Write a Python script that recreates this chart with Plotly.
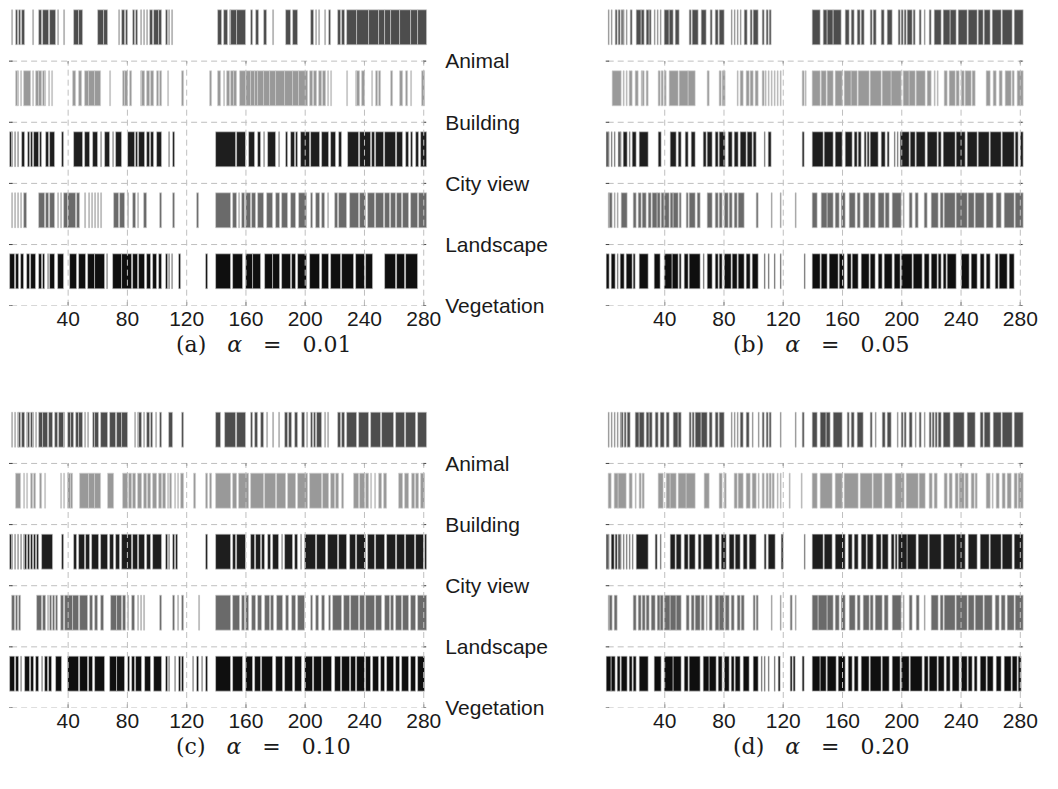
import plotly.graph_objects as go

# ---------------- data ----------------
CATEGORIES = ["Animal", "Building", "City view", "Landscape", "Vegetation"]
CAT_POS = [5, 4, 3, 2, 1]
X_TICKS = [40, 80, 120, 160, 200, 240, 280]
COLORS = ["#4d4d4d", "#999999", "#1e1e1e", "#6a6a6a", "#0f0f0f"]
PANEL_LABELS = ["(a)", "(b)", "(c)", "(d)"]
ALPHAS = ["0.01", "0.05", "0.10", "0.20"]

# runs of images [start, end] assigned to each category (x = image index)
A_ANIMAL = [[2,3],[5,6],[7,8],[9,11],[16,17],[20,22],[23,27],[28,32],[33,34],[37,38],[44,47],[47,50],[60,64],[64,67],[74,75],[76,78],[79,80],[84,85],[86,87],[89,90],[91,92],[93,94],[95,97],[98,101],[101,103],[106,107],[108,109],[110,111],[141,144],[145,148],[149,150],[150,154],[154,160],[163,165],[167,169],[172,174],[178,179],[187,190],[192,195],[204,206],[207,208],[209,210],[213,214],[216,217],[222,224],[225,227],[228,235],[235,243],[243,250],[250,254],[254,258],[258,264],[264,271],[271,276],[276,282]]
A_BUILDING = [[5,6],[6,7],[8,9],[10,15],[16,17],[18,20],[20,22],[23,24],[24,25],[27,28],[29,30],[43,45],[47,49],[51,54],[54,58],[58,62],[68,69],[77,78],[78,80],[82,83],[89,90],[90,92],[93,95],[96,98],[100,101],[102,103],[107,108],[117,118],[136,137],[141,143],[145,146],[147,149],[150,152],[152,154],[156,160],[160,163],[163,166],[166,168],[168,172],[172,176],[176,180],[180,186],[186,192],[192,196],[196,202],[203,205],[206,208],[209,211],[212,214],[215,216],[217,218],[228,229],[234,235],[235,237],[238,240],[245,246],[248,249],[250,251],[258,259],[264,266],[268,269],[271,272],[279,281]]
A_CITY = [[1,2],[2,3],[4,5],[6,7],[9,11],[13,14],[15,16],[17,20],[21,22],[25,27],[28,31],[36,37],[44,50],[51,55],[57,60],[62,63],[65,68],[70,71],[72,76],[80,85],[86,87],[88,92],[93,95],[96,98],[100,103],[108,109],[111,112],[140,153],[154,160],[162,166],[168,170],[172,173],[175,180],[182,183],[187,188],[190,193],[194,195],[197,203],[204,210],[211,216],[217,221],[223,225],[229,236],[237,244],[245,247],[248,253],[254,261],[262,266],[268,270],[271,273],[275,277],[278,282]]
A_LANDSCAPE = [[2,3],[4,5],[6,7],[8,9],[10,12],[20,24],[25,27],[28,31],[33,34],[35,36],[37,40],[40,45],[46,48],[51,52],[54,55],[56,57],[58,59],[60,61],[62,63],[71,74],[75,78],[80,81],[84,86],[87,88],[91,93],[102,103],[111,112],[127,128],[140,150],[151,154],[155,156],[157,159],[160,163],[164,167],[168,172],[174,178],[180,183],[184,188],[190,194],[196,201],[204,205],[207,210],[211,213],[215,216],[220,222],[223,228],[230,236],[237,241],[242,247],[248,253],[254,257],[258,261],[262,265],[266,270],[271,276],[277,282]]
A_VEGETATION = [[1,4],[5,7],[8,10],[12,14],[15,18],[20,22],[23,24],[26,27],[28,31],[33,37],[41,46],[47,52],[53,58],[58,65],[66,67],[70,76],[76,83],[84,87],[88,92],[93,96],[97,100],[101,103],[106,107],[108,109],[110,111],[115,116],[133,134],[140,150],[151,158],[160,165],[165,170],[173,178],[178,183],[184,190],[191,194],[195,201],[203,210],[211,216],[217,224],[225,233],[234,240],[241,246],[254,261],[262,267],[268,276]]

B_ANIMAL = [[2,3],[4,5],[7,8],[9,10],[11,12],[12,13],[14,15],[17,18],[21,24],[24,26],[28,30],[30,31],[33,34],[35,36],[37,38],[40,43],[43,46],[47,50],[57,58],[59,63],[65,68],[71,72],[74,76],[77,80],[85,86],[87,88],[89,90],[91,92],[94,96],[98,99],[100,103],[106,107],[109,110],[111,112],[140,145],[147,150],[150,154],[154,159],[162,165],[166,168],[170,172],[173,175],[179,180],[181,183],[186,188],[190,194],[198,199],[200,201],[202,203],[204,207],[208,209],[212,213],[215,216],[219,220],[222,227],[228,233],[233,237],[238,244],[245,251],[252,255],[256,260],[261,267],[268,275],[276,282]]
B_BUILDING = [[5,11],[12,13],[14,15],[16,18],[20,22],[24,25],[25,26],[28,29],[36,37],[38,39],[40,41],[43,49],[50,56],[56,61],[69,70],[77,78],[79,81],[89,90],[91,93],[95,97],[98,100],[101,103],[106,107],[108,109],[110,111],[112,113],[114,115],[116,117],[118,119],[133,134],[135,136],[140,145],[146,149],[150,154],[155,160],[161,166],[166,170],[171,178],[179,186],[187,193],[193,200],[201,205],[205,209],[210,216],[217,220],[222,223],[224,225],[229,231],[232,236],[237,239],[240,242],[243,247],[248,250],[257,260],[262,264],[266,268],[270,274],[275,276],[278,282]]
B_CITY = [[1,2],[2,3],[4,5],[6,7],[9,10],[10,11],[12,15],[16,17],[18,21],[23,29],[36,38],[44,48],[49,51],[54,56],[58,61],[66,68],[69,72],[74,76],[77,81],[83,86],[87,90],[91,95],[96,99],[100,102],[107,108],[110,112],[133,134],[140,147],[148,154],[155,160],[162,167],[168,170],[171,173],[175,176],[177,178],[179,184],[186,189],[190,192],[195,196],[197,198],[199,205],[206,209],[210,216],[217,224],[225,227],[228,236],[237,243],[244,251],[252,259],[260,267],[268,276],[277,279],[280,282]]
B_LANDSCAPE = [[2,3],[3,5],[6,7],[8,9],[11,15],[19,21],[22,24],[25,28],[29,31],[32,35],[35,37],[38,40],[40,43],[44,46],[46,49],[50,51],[55,56],[57,61],[62,64],[69,72],[74,76],[77,79],[80,83],[84,86],[87,89],[90,94],[102,103],[112,113],[118,119],[128,129],[140,143],[146,150],[150,154],[155,158],[159,162],[165,169],[170,172],[174,178],[179,182],[184,188],[189,192],[194,200],[201,202],[205,207],[209,211],[215,217],[220,225],[226,228],[229,236],[237,244],[245,249],[250,256],[257,262],[264,267],[269,276],[277,282]]
B_VEGETATION = [[1,3],[4,7],[8,9],[10,13],[14,18],[19,20],[23,29],[33,37],[40,45],[45,49],[50,51],[53,56],[57,64],[66,67],[69,72],[74,76],[77,79],[80,85],[86,89],[90,94],[95,98],[99,103],[107,108],[110,111],[114,115],[118,119],[134,135],[140,145],[146,150],[151,157],[158,161],[163,166],[167,171],[173,178],[179,182],[184,187],[188,194],[195,199],[200,207],[208,214],[215,219],[220,224],[225,227],[228,230],[231,237],[240,246],[247,251],[253,256],[257,260],[263,265],[266,271],[273,276]]

C_ANIMAL = [[2,3],[4,5],[6,7],[7,8],[9,11],[12,13],[13,14],[15,16],[16,17],[18,19],[20,23],[23,26],[27,30],[31,33],[34,37],[37,38],[40,42],[42,44],[45,47],[47,50],[51,52],[53,54],[57,58],[58,61],[62,67],[68,72],[73,76],[76,80],[85,86],[87,88],[88,90],[91,92],[93,95],[96,97],[99,100],[102,103],[108,111],[117,118],[140,143],[146,153],[154,160],[163,165],[166,168],[170,172],[174,175],[178,179],[182,183],[186,188],[189,191],[193,195],[198,200],[201,202],[204,205],[206,207],[208,211],[213,214],[215,216],[222,224],[225,227],[228,235],[236,243],[244,251],[252,260],[261,267],[268,275],[276,282]]
C_BUILDING = [[5,8],[10,11],[12,13],[15,16],[17,18],[21,22],[24,25],[35,36],[37,38],[40,42],[42,43],[48,54],[54,58],[58,62],[67,71],[77,80],[81,83],[84,86],[87,90],[91,93],[94,96],[97,100],[101,103],[104,106],[107,108],[109,110],[112,113],[114,115],[116,118],[125,126],[133,134],[136,137],[140,150],[151,154],[155,162],[163,172],[173,180],[181,187],[188,194],[195,202],[203,211],[212,216],[217,220],[221,223],[225,226],[233,236],[237,240],[241,243],[244,245],[247,248],[250,252],[253,255],[263,266],[267,270],[272,274],[275,277],[278,281]]
C_CITY = [[1,2],[2,3],[4,5],[6,7],[8,9],[10,11],[11,12],[13,14],[15,16],[17,18],[19,20],[22,30],[36,37],[44,46],[47,51],[52,55],[56,61],[62,67],[68,71],[72,75],[76,83],[84,87],[88,92],[93,96],[97,103],[106,107],[108,109],[111,112],[113,114],[133,134],[140,150],[151,153],[154,160],[163,166],[167,170],[171,173],[175,177],[178,182],[184,185],[186,192],[193,195],[197,198],[200,207],[208,214],[215,222],[223,228],[230,234],[235,241],[242,247],[248,254],[255,261],[262,267],[268,274],[275,280],[281,282]]
C_LANDSCAPE = [[2,4],[5,6],[7,8],[19,22],[23,25],[26,27],[28,29],[30,31],[32,33],[35,37],[38,43],[43,47],[48,53],[55,57],[58,60],[62,64],[69,73],[73,76],[77,79],[80,81],[83,85],[87,88],[89,90],[91,92],[102,103],[111,112],[114,115],[117,118],[128,129],[140,150],[151,156],[157,159],[160,162],[164,167],[168,171],[173,176],[177,179],[181,185],[187,189],[191,194],[195,200],[204,205],[207,209],[211,213],[216,217],[219,225],[226,230],[231,236],[237,240],[241,247],[248,252],[254,257],[258,260],[261,265],[266,270],[271,275],[276,282]]
C_VEGETATION = [[1,4],[5,7],[8,9],[11,14],[15,17],[18,20],[22,23],[24,26],[27,29],[32,36],[40,47],[48,53],[54,57],[58,65],[68,73],[73,78],[80,82],[83,85],[86,90],[92,96],[98,103],[106,107],[108,109],[112,113],[115,116],[117,118],[124,125],[127,128],[130,131],[133,134],[140,150],[151,158],[160,165],[166,170],[171,178],[180,185],[186,192],[193,198],[200,205],[206,211],[212,218],[220,224],[225,230],[231,234],[235,240],[241,244],[246,250],[251,254],[255,260],[261,264],[265,270],[271,275],[276,281]]

D_ANIMAL = [[2,3],[4,5],[6,7],[8,9],[10,11],[11,12],[13,14],[15,17],[20,23],[23,26],[28,30],[30,32],[34,36],[37,40],[41,43],[46,49],[49,51],[57,58],[59,60],[61,65],[65,69],[70,72],[74,76],[77,80],[85,86],[87,88],[89,90],[91,93],[95,97],[99,100],[103,104],[106,107],[109,110],[111,112],[118,119],[128,129],[133,134],[140,143],[145,149],[149,152],[154,160],[163,165],[166,168],[170,174],[179,180],[182,183],[187,189],[190,193],[197,198],[200,201],[202,203],[205,207],[209,210],[212,213],[215,216],[219,220],[221,222],[223,224],[225,227],[228,233],[235,242],[244,250],[253,255],[256,260],[262,267],[268,275],[276,282]]
D_BUILDING = [[2,4],[6,9],[9,14],[16,18],[20,21],[23,24],[25,26],[36,39],[41,44],[44,48],[49,55],[55,61],[67,70],[77,79],[80,82],[87,89],[90,93],[95,98],[99,102],[103,104],[106,107],[109,110],[111,112],[113,114],[116,117],[118,119],[124,125],[132,133],[140,143],[145,153],[155,160],[161,171],[172,180],[181,187],[188,194],[196,202],[203,211],[212,216],[219,221],[222,224],[229,231],[232,234],[236,238],[239,242],[243,245],[247,249],[250,251],[257,260],[261,262],[264,266],[268,270],[271,274],[276,278],[279,282]]
D_CITY = [[1,2],[2,3],[4,6],[7,8],[9,10],[10,11],[12,13],[14,15],[16,17],[18,19],[21,29],[34,35],[37,38],[44,47],[48,51],[53,56],[57,61],[63,65],[66,72],[74,77],[78,82],[84,87],[88,91],[93,96],[97,102],[107,109],[110,115],[119,120],[134,135],[140,147],[148,153],[155,162],[164,167],[168,171],[173,176],[177,181],[183,186],[187,191],[193,195],[196,197],[198,204],[204,210],[211,218],[219,227],[228,236],[237,243],[245,251],[253,259],[260,267],[268,275],[276,282]]
D_LANDSCAPE = [[2,3],[3,5],[6,8],[19,21],[22,24],[25,27],[28,30],[31,34],[35,37],[37,39],[40,44],[44,48],[48,51],[55,57],[58,60],[61,64],[65,67],[68,69],[70,72],[74,77],[77,80],[81,84],[85,87],[89,91],[92,94],[100,101],[102,103],[112,113],[118,119],[125,126],[128,129],[140,144],[144,150],[150,154],[155,158],[159,162],[165,169],[170,172],[174,178],[179,181],[182,187],[188,191],[194,200],[201,202],[205,207],[210,212],[215,216],[220,225],[226,228],[229,236],[237,244],[245,249],[250,255],[256,261],[263,266],[267,270],[271,276],[277,282]]
D_VEGETATION = [[1,4],[4,7],[8,10],[11,15],[16,18],[19,21],[23,29],[33,38],[40,46],[46,51],[53,56],[57,64],[66,70],[70,75],[76,79],[80,84],[85,87],[88,91],[93,97],[100,103],[105,106],[107,108],[110,111],[114,115],[117,118],[125,126],[127,128],[133,134],[140,145],[145,149],[150,156],[157,162],[164,167],[168,171],[173,178],[179,186],[187,192],[194,199],[200,205],[206,214],[215,218],[219,224],[225,229],[230,233],[234,239],[240,244],[245,248],[249,251],[253,257],[258,262],[264,267],[269,274],[275,278],[279,281]]

PANELS = [
    [A_ANIMAL, A_BUILDING, A_CITY, A_LANDSCAPE, A_VEGETATION],
    [B_ANIMAL, B_BUILDING, B_CITY, B_LANDSCAPE, B_VEGETATION],
    [C_ANIMAL, C_BUILDING, C_CITY, C_LANDSCAPE, C_VEGETATION],
    [D_ANIMAL, D_BUILDING, D_CITY, D_LANDSCAPE, D_VEGETATION],
]

# ---------------- layout geometry ----------------
W, H = 1058, 789
X_RANGE = [0, 283]
Y_RANGE = [1, 5.9]
BAR_OFFSET = 0.27
BAR_HEIGHT = 0.57
XDOM = {"left": [9 / W, 433.5 / W], "right": [613 / W, 1037.5 / W]}
YDOM = {"top": [1 - 310 / H, 1 - 6.2 / H], "bottom": [1 - 718 / H, 1 - 414.2 / H]}
PANEL_POS = [("left", "top"), ("right", "top"), ("left", "bottom"), ("right", "bottom")]
CAPTION_XY = [(267, 349), (831, 349), (267, 757), (831, 757)]

GRID_COLOR = "#bfbfbf"
DASH = "6px,4px"
TICK_FONT = dict(family="Liberation Sans, Arial, sans-serif", size=21, color="#1a1a1a")

fig = go.Figure()
shapes = []
annotations = []
layout_axes = {}

for p, rows in enumerate(PANELS):
    sfx = "" if p == 0 else str(p + 1)
    xa, ya = "x" + sfx, "y" + sfx
    hpos, vpos = PANEL_POS[p]

    # bars
    for ci, segs in enumerate(rows):
        xs = [(s + e) / 2 for s, e in segs]
        ws = [e - s for s, e in segs]
        fig.add_trace(go.Bar(
            x=xs, y=[BAR_HEIGHT] * len(segs), width=ws,
            base=[CAT_POS[ci] + BAR_OFFSET] * len(segs),
            marker=dict(color=COLORS[ci], line=dict(color="#d0d0d0", width=0.6)),
            xaxis=xa, yaxis=ya, showlegend=False, hoverinfo="skip",
        ))

    # horizontal dashed grid lines (one per category)
    for yv in CAT_POS:
        shapes.append(dict(type="line", xref=xa, yref=ya, x0=X_RANGE[0] + 1.5, x1=X_RANGE[1] - 1,
                           y0=yv, y1=yv, line=dict(color=GRID_COLOR, width=1, dash=DASH), layer="below"))
    # vertical dashed grid lines (over the bars)
    for xv in X_TICKS:
        shapes.append(dict(type="line", xref=xa, yref=ya, x0=xv, x1=xv,
                           y0=min(CAT_POS), y1=max(CAT_POS),
                           line=dict(color=GRID_COLOR, width=1, dash=DASH), layer="above"))

    # small tick marks
    tx, ty = [], []
    for yv in CAT_POS:
        tx += [X_RANGE[0], X_RANGE[0] + 2.5, None, X_RANGE[1] - 3.5, X_RANGE[1] - 1.5, None]
        ty += [yv, yv, None, yv, yv, None]
    for xv in X_TICKS:
        tx += [xv, xv, None, xv, xv, None]
        ty += [min(CAT_POS), min(CAT_POS) + 0.06, None, max(CAT_POS), max(CAT_POS) - 0.04, None]
    fig.add_trace(go.Scatter(x=tx, y=ty, mode="lines", line=dict(color="#444444", width=1),
                             xaxis=xa, yaxis=ya, showlegend=False, hoverinfo="skip"))

    show_cat = hpos == "left"
    layout_axes["xaxis" + sfx] = dict(
        domain=XDOM[hpos], range=X_RANGE, anchor=ya, showgrid=False, zeroline=False,
        showline=False, tickmode="array", tickvals=X_TICKS, ticktext=[str(t) for t in X_TICKS],
        ticks="", tickfont=TICK_FONT, fixedrange=True, ticklabelstandoff=-2,
    )
    layout_axes["yaxis" + sfx] = dict(
        domain=YDOM[vpos], range=Y_RANGE, anchor=xa, side="right", showgrid=False,
        zeroline=False, showline=False, tickmode="array", tickvals=CAT_POS,
        ticktext=CATEGORIES, showticklabels=show_cat, ticks="", ticklabelstandoff=16,
        tickfont=TICK_FONT, fixedrange=True,
    )

    cx, cy = CAPTION_XY[p]
    annotations.append(dict(
        x=cx / W, y=1 - cy / H, xref="paper", yref="paper", showarrow=False,
        xanchor="center", yanchor="middle",
        text=f"{PANEL_LABELS[p]}&nbsp;&nbsp;&nbsp;<i>α</i>&nbsp;&nbsp;&nbsp;=&nbsp;&nbsp;&nbsp;{ALPHAS[p]}",
        font=dict(family="DejaVu Serif, serif", size=22, color="#1a1a1a"),
    ))

fig.update_layout(
    width=W, height=H, margin=dict(l=0, r=0, t=0, b=0),
    paper_bgcolor="white", plot_bgcolor="white", barmode="overlay", bargap=0,
    shapes=shapes, annotations=annotations, showlegend=False,
    **layout_axes,
)

fig.write_html("out.html", config={"displayModeBar": False},
               post_script="document.body.style.margin='0';")
